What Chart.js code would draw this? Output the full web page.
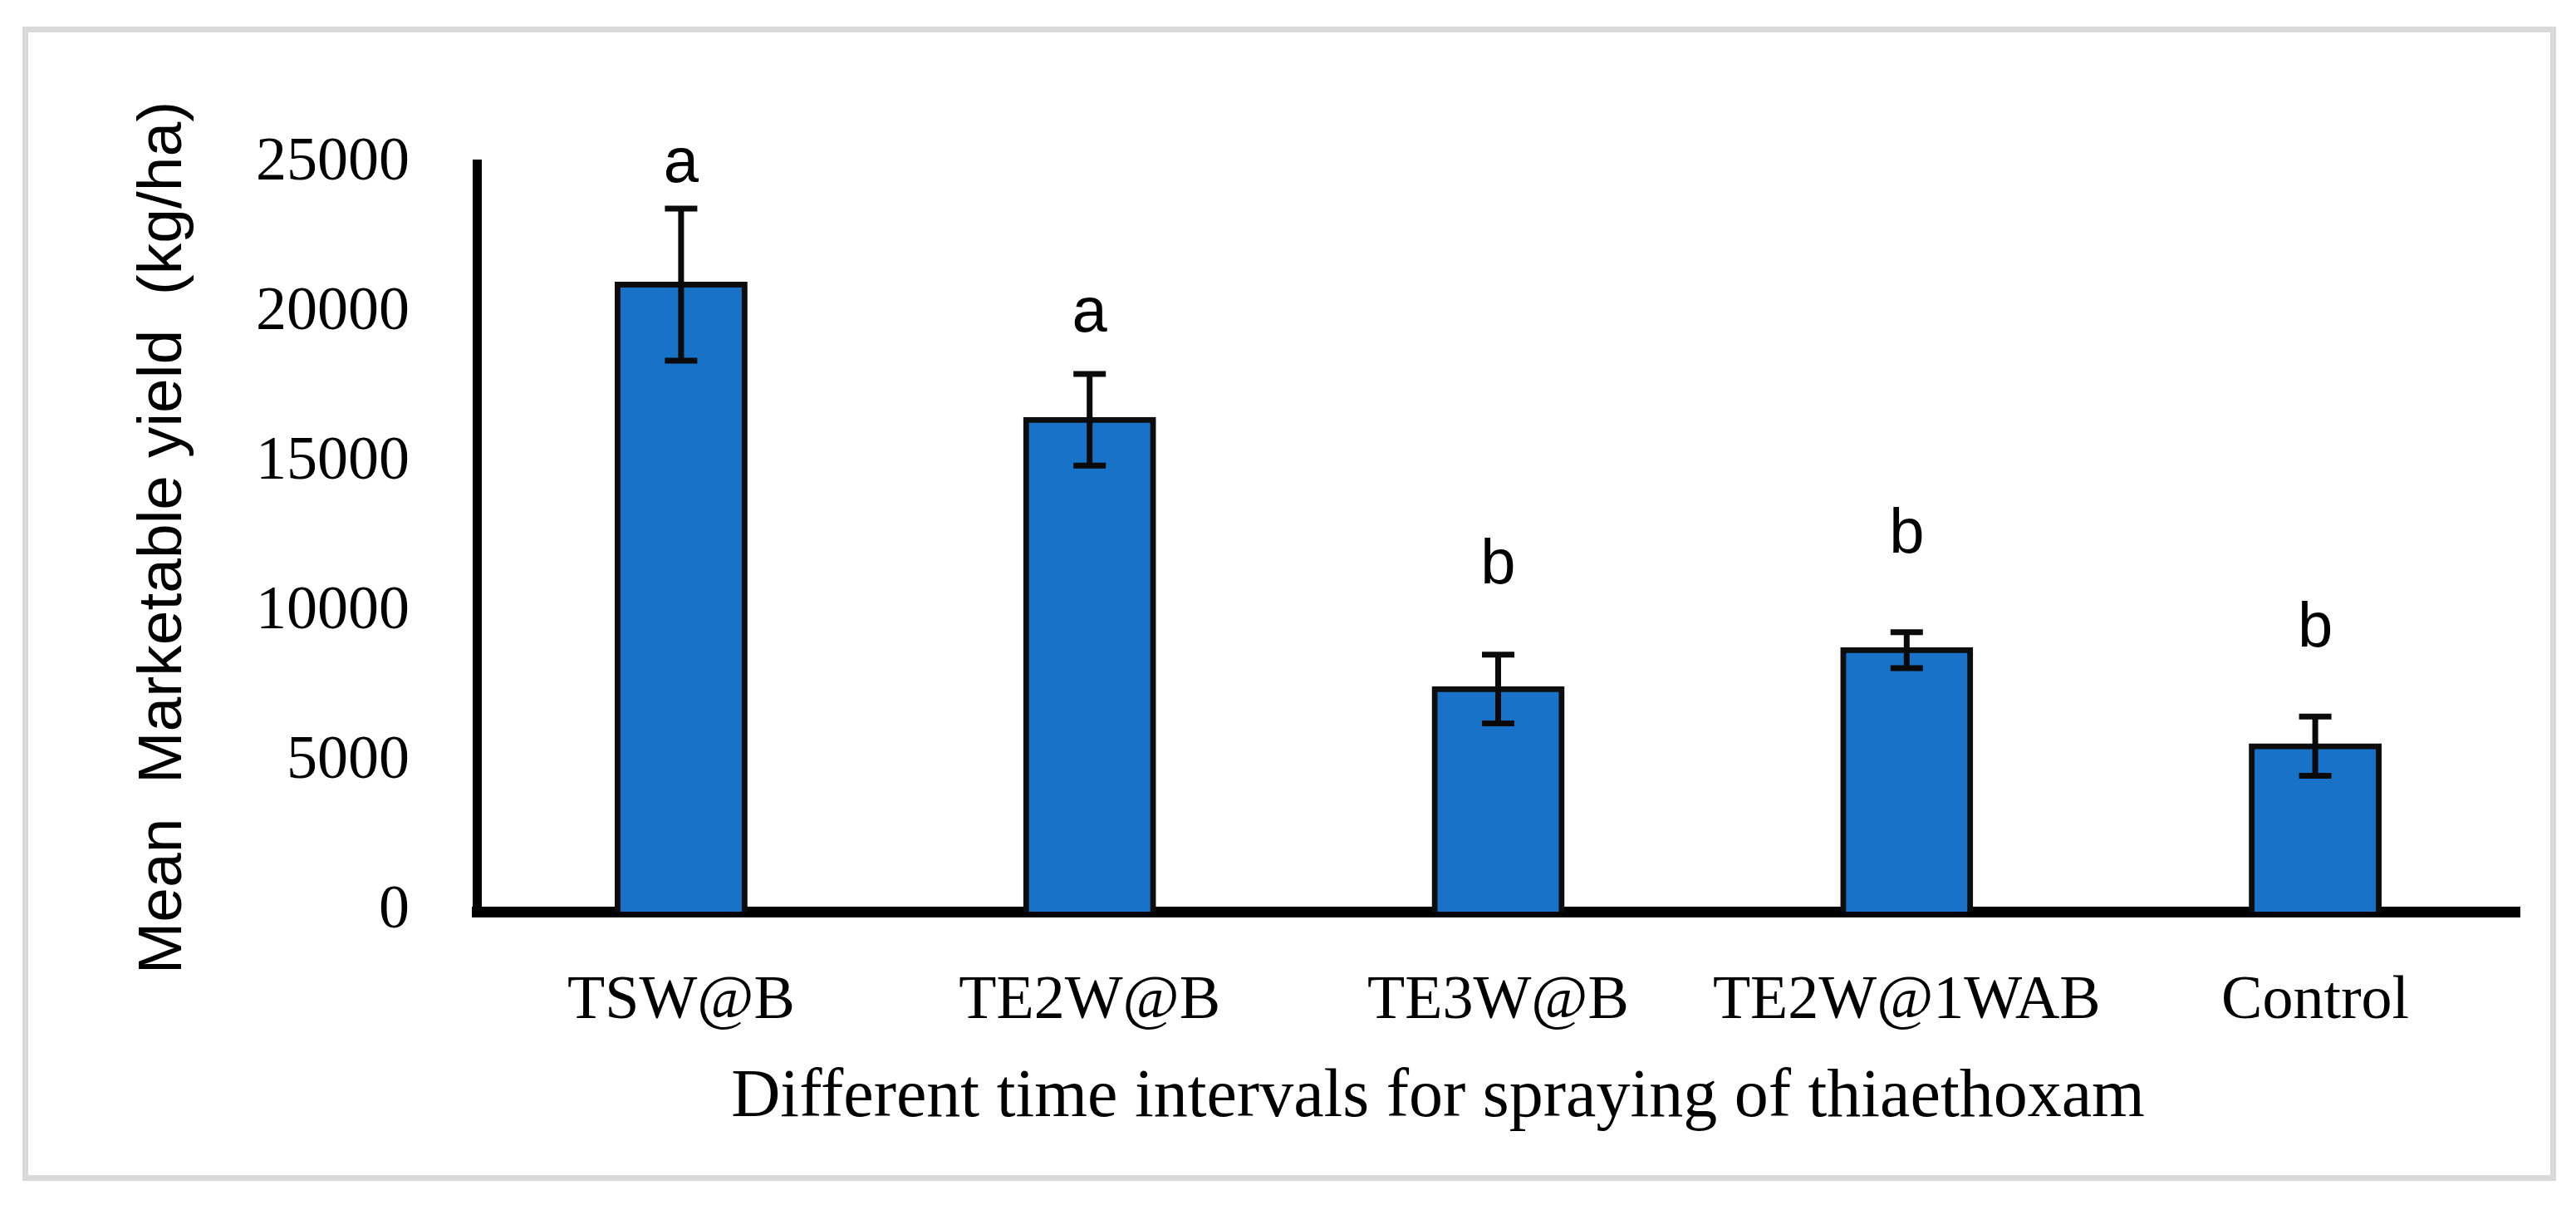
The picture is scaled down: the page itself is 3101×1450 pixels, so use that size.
<!DOCTYPE html>
<html>
<head>
<meta charset="utf-8">
<title>Marketable yield</title>
<script src="https://cdn.jsdelivr.net/npm/chart.js@4.4.1/dist/chart.umd.min.js"></script>
<style>
  html, body { margin: 0; padding: 0; background: #ffffff; }
  #wrap { width: 3101px; height: 1450px; }
</style>
</head>
<body>
<div id="wrap"><canvas id="myChart" width="3101" height="1450"></canvas></div>
<script>
'use strict'

let treatments = ['TSW@B', 'TE2W@B', 'TE3W@B', 'TE2W@1WAB', 'Control'];
let meanYield = [20960, 16440, 7440, 8740, 5530];
let stdError = [2540, 1530, 1150, 600, 990];
let groupLetters = ['a', 'a', 'b', 'b', 'b'];
// height (kg/ha) of the baseline of each letter
let letterAt = [24400, 19400, 10970, 12000, 8860];
let yTicks = [0, 5000, 10000, 15000, 20000, 25000];

let yTitle = 'Mean  Marketable yield  (kg/ha)';
let xTitle = 'Different time intervals for spraying of thiaethoxam';

let serif = '"Liberation Serif", "Times New Roman", serif';
let sans = '"Liberation Sans", Arial, sans-serif';


// grey frame round the figure
let framePlugin = {
    id: 'frame',
    beforeDraw(chart) {
        let ctx = chart.ctx;
        ctx.save();
        ctx.fillStyle = '#ffffff';
        ctx.fillRect(0, 0, chart.width, chart.height);
        ctx.strokeStyle = '#d9d9d9';
        ctx.lineWidth = 7;
        ctx.strokeRect(30.5, 35.5, 3043, 1382);
        ctx.restore();
    }
};

// error bars
let errorPlugin = {
    id: 'errors',
    afterDatasetsDraw(chart) {
        let ctx = chart.ctx;
        let yScale = chart.scales.y;
        let meta = chart.getDatasetMeta(0);
        ctx.save();
        ctx.strokeStyle = '#0a0a0a';
        ctx.lineWidth = 7;
        for (let i = 0; i < meta.data.length; i++) {
            let x = meta.data[i].x;
            let top = yScale.getPixelForValue(meanYield[i] + stdError[i]);
            let bot = yScale.getPixelForValue(meanYield[i] - stdError[i]);
            ctx.beginPath();
            ctx.moveTo(x, top);
            ctx.lineTo(x, bot);
            ctx.moveTo(x - 19.5, top);
            ctx.lineTo(x + 19.5, top);
            ctx.moveTo(x - 19.5, bot);
            ctx.lineTo(x + 19.5, bot);
            ctx.stroke();
        }
        ctx.restore();
    }
};

// letters above bars and the x axis title
let textPlugin = {
    id: 'texts',
    afterDraw(chart) {
        let ctx = chart.ctx;
        let yScale = chart.scales.y;
        let meta = chart.getDatasetMeta(0);
        ctx.save();
        ctx.fillStyle = '#000000';
        ctx.textAlign = 'center';
        ctx.textBaseline = 'alphabetic';
        ctx.font = '76px ' + sans;
        for (let i = 0; i < meta.data.length; i++) {
            ctx.fillText(groupLetters[i], meta.data[i].x, yScale.getPixelForValue(letterAt[i]));
        }
        ctx.font = '82px ' + serif;
        ctx.fillText(xTitle, 1731, 1343);
        ctx.restore();
    }
};


let ctx = document.getElementById('myChart').getContext('2d');
let myChart = new Chart(ctx, {
    type: 'bar',
    data: {
        labels: treatments,
        datasets: [{
            label: 'Mean marketable yield',
            data: meanYield,
            backgroundColor: '#1873c8',
            borderColor: '#0d0d0d',
            borderWidth: 7,
            borderSkipped: 'start',
            inflateAmount: 3.5,
            categoryPercentage: 1,
            barPercentage: 0.311
        }]
    },
    options: {
        responsive: false,
        animation: false,
        devicePixelRatio: 1,
        layout: {
            padding: { top: 197, right: 68, left: 0, bottom: 0 }
        },
        plugins: {
            legend: { display: false },
            tooltip: { enabled: false }
        },
        scales: {
            x: {
                z: 1,
                grid: { display: false, drawTicks: false },
                border: { display: true, color: '#000000', width: 13 },
                ticks: {
                    color: '#000000',
                    padding: 64,
                    font: { family: serif, size: 74 }
                },
                afterFit(scale) {
                    scale.height = 353;
                }
            },
            y: {
                z: 1,
                min: 0,
                max: 25000,
                grid: { display: false, drawTicks: false },
                border: { display: true, color: '#000000', width: 11 },
                afterBuildTicks(scale) {
                    scale.ticks = yTicks.map(v => ({ value: v }));
                },
                ticks: {
                    color: '#000000',
                    padding: 81,
                    font: { family: serif, size: 74 },
                    callback: v => String(v)
                },
                title: {
                    display: true,
                    text: yTitle,
                    color: '#000000',
                    font: { family: sans, size: 75 },
                    padding: { top: 152, bottom: 0 }
                },
                afterFit(scale) {
                    scale.width = 574;
                }
            }
        }
    },
    plugins: [framePlugin, errorPlugin, textPlugin]
});
</script>
</body>
</html>
